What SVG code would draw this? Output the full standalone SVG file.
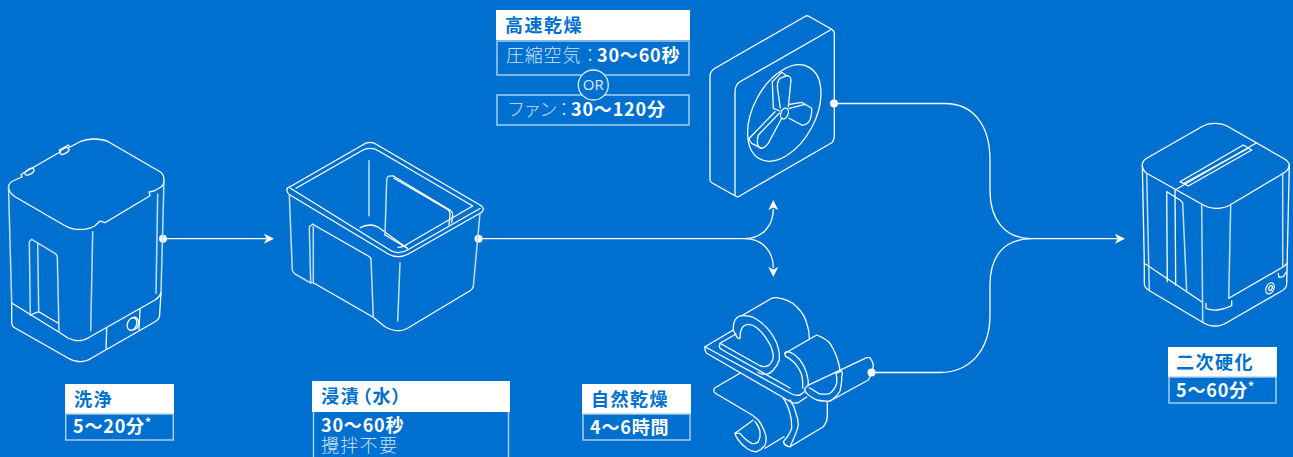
<svg xmlns="http://www.w3.org/2000/svg" width="1293" height="457" viewBox="0 0 1293 457">
<style>
.bg{fill:#0070d0}
.l{fill:none;stroke:#fff;stroke-width:1.3;stroke-linejoin:round;stroke-linecap:round}
.m{fill:none;stroke:#c4def4;stroke-width:1.5;stroke-linecap:round;stroke-linejoin:round}
.c{fill:none;stroke:#fff;stroke-width:1.3}
.d{fill:#fff}
.h{fill:#fff}
.b{fill:none;stroke:#b3d4f0;stroke-width:1.4}
text{font-family:"Noto Sans CJK JP","Noto Sans",sans-serif}
.t{font-size:18px;font-weight:700;fill:#0070d0;letter-spacing:1.5px}
.v{font-size:18px;font-weight:700;fill:#fff;letter-spacing:.8px}
.n{font-weight:300;fill:#cfe4f6}
.or{font-size:15px;font-weight:400;fill:#e2effa;font-family:"Open Sans","Noto Sans",sans-serif}
</style>
<rect class="bg" width="1293" height="457"/>
<defs>
<polygon id="ah" points="0,0 -10,-5 -7.5,0 -10,5" fill="#fff"/>
</defs>
<g id="connectors">
<path class="c" d="M163,238.7H266"/>
<use href="#ah" transform="translate(274,238.7)"/>
<path class="c" d="M479,238.7H745C762,238.7 773.3,226 773.3,209"/>
<use href="#ah" transform="translate(773.3,200) rotate(-90)"/>
<path class="c" d="M745,238.7C762,238.7 773.3,251 773.3,268"/>
<use href="#ah" transform="translate(773.3,277) rotate(90)"/>
<path class="c" d="M834,103.5H945C973,103.5 990,125 990,160V190C990,220 1005,238.7 1032,238.7H1117"/>
<path class="c" d="M871,372.5H940C970,372.5 990,350 990,315V285C990,255 1005,238.7 1032,238.7"/>
<use href="#ah" transform="translate(1125,238.7)"/>
<circle class="d" cx="163" cy="238.7" r="4"/>
<circle class="d" cx="478.5" cy="238.7" r="4"/>
<circle class="d" cx="834" cy="103.5" r="4"/>
<circle class="d" cx="871.5" cy="372.5" r="4"/>
</g>
<g id="washer">
<path class="l" d="M8.5,187C8.5,191 11,194 15,196.7L65,225.7C70,228.5 75,229.5 80,229.5C85,229.5 91,228 95,225.7L100,221L105,222.7L150,195.7L149,192L154,191L161,187C163,185.5 164,183 164,180C164,176 163,173.5 160,171.7L108.3,141.7C104,139.5 99,139 93,139C88,139 84,140 80,141.7L70,147L68.3,145L59.3,150L60,152L21,174.5L22,177L15,180C11,181.5 8.5,184 8.5,187Z"/>
<ellipse class="l" cx="29.5" cy="171.7" rx="5" ry="2.5" transform="rotate(-30 29.5 171.7)"/>
<ellipse class="l" cx="64.5" cy="151" rx="5" ry="2.5" transform="rotate(-30 64.5 151)"/>
<path class="m" d="M8.5,187L11.7,303"/>
<path class="l" d="M11.7,303V322C11.7,325 13,327 15,328L68,358C72,360.5 76,361.7 80,361.7C84,361.7 88,360.5 91.7,358L155,321.7C158,320 159.3,318 159.5,316L161,293"/>
<path class="m" d="M161,293L164,180"/>
<path class="l" d="M11.7,303L58.3,331.7L68,338C72,340 75,340.7 78,340.7C82,340.7 85,340 88,338L155,300C158,298 160,296 161,293"/>
<path class="m" d="M30.3,315L29.3,241.7L31.7,239.3L55,253.3C56.5,254.3 57.3,255.3 57.3,257L59,331.7"/>
<path class="m" d="M37.7,243.3L38.7,311.7"/>
<path class="l" d="M30.3,315L38.7,311.7L58.3,323.3"/>
<path class="m" d="M92.7,231.7L90.7,330.7"/>
<path class="m" d="M157.7,194L156,293.3"/>
<path class="l" d="M106.7,328.3L106,349M140,309L139,329.3"/>
<ellipse class="l" cx="132" cy="324" rx="4.5" ry="6.5" transform="rotate(22 132 324)"/>
<path class="l" d="M133,317.5C136,316.5 138.5,319 138.5,322.5C138.5,326 136.5,329 133.5,330"/>
</g>
<g id="tub">
<path class="l" d="M290,188L388.3,249C392,251.5 395,252.7 398.3,252.7C402,252.7 405,251.5 408.3,249.5L480,208.5"/>
<path class="l" d="M286.7,190C286.5,188.5 288,187.5 290,186.7L361.7,145.5C364.5,143.3 367,142.3 370,142.3C373,142.3 375.5,143.3 378.3,145.5L480,205C482.5,206.5 483.5,208 483.3,209.5C483.2,211 482,212.3 480,213.3L408.3,254C405,255.8 402,256.7 398.3,256.7C395,256.7 391.5,255.8 388.3,254L290,195C287.5,193.5 286.9,191.5 286.7,190Z"/>
<path class="l" d="M296,188.3L361.7,150.7C364.5,149 367,148.3 370,148.3C373,148.3 375.5,149 378.3,150.7L472.7,206L408.3,243.5C405,246 401,247.3 398,247.3"/>
<path class="m" d="M289.3,195L292.3,270C292.5,272 293.5,273 295,274L310,282.7"/>
<path class="l" d="M310,282.7H313.3L373.3,317.3L385,326.7C390,329.5 394,330.7 398.3,330.7C402.5,330.7 406,329.5 410,326.7L470,290.7C472,289.5 473,288 473.3,286.7"/>
<path class="m" d="M473.3,286.7L480,213.3"/>
<path class="m" d="M310.7,282.7L309.3,226.7L312.7,224.3M313.3,226.7V282.7"/>
<path class="l" d="M312.7,224.3L368.3,256C370,257 371,258 371,259.3"/>
<path class="m" d="M371,259.3L373.3,317.3"/>
<path class="m" d="M400,262.7L397.7,321"/>
<path class="m" d="M369,160.7V215.7"/>
<path class="l" d="M360,227.7C363,226 366,225 370,225C373.5,225 376,226 378.3,227.3L407.3,248.3"/>
<path class="m" d="M385,235L386.7,180C387,177.5 388.5,176 390,176H393.3"/>
<path class="l" d="M393.3,176L450,210C452,211.5 452.7,213 452.7,215L451.7,222.7M394,178.3L448.3,210C449.5,211 450,213 450,215L449,225M385,235L407.3,248.3"/>
</g>
<g id="fan">
<path class="l" d="M710,76.7C710,72.5 712,70 715,68.3L805,16.5C806,15.7 807.5,15.7 808.3,16L831.7,29.3C833.5,30.5 834.3,31.5 834.3,33.3V135C834.3,138.5 833.5,141 831.7,142.7L740,195.7C738.5,196.9 737,196.9 736,196.2L711.7,182.7C710.5,182 710,181 710,180Z"/>
<path class="l" d="M735,195V91.7C735,87 737,83.5 740,81.7L831.7,29.3"/>
<ellipse class="l" cx="784.3" cy="113" rx="31" ry="52" transform="rotate(28 784.3 113)"/>
<ellipse class="l" cx="784.5" cy="113.5" rx="3.6" ry="5.6" transform="rotate(22 784.5 113.5)"/>
<path class="l" d="M780.3,108L777.5,88.3C777,84 778,80.5 780,78.3L786.7,75.7C789,75.7 791,77.5 791,80L788.3,106.7"/>
<path class="l" d="M780,111L773.3,108.3L772.3,81.7L781.7,72.3L786.7,75.7"/>
<path class="l" d="M789,118.3L801.7,125C805,125.5 808,123.5 810,120C811.5,116 812,112 811.7,108.3L805,104.3L789.3,108.3"/>
<path class="l" d="M789.3,104.3L801.7,102.3L805,104.3"/>
<path class="l" d="M781.7,118.3L768.3,143.3C766,146 764,148 761.7,148.3C759.5,148 758,147 757.7,145C757,142 757.5,138 758.3,135L779.3,113.3"/>
<path class="l" d="M749.3,138.3L775,111.7M749.3,138.3C749,140 750,142 751.7,143.3L761.7,148.3"/>
</g>
<g id="clip">
<path class="l" d="M741.7,315.7L771.7,298.3C773,297.7 775,297.5 776.7,297.7C785,299 792,302 796.7,306.7C802,312 805.5,318 806.7,323.3C808.5,328 809.3,333 809.3,338.3"/>
<path class="l" d="M733.3,330C733,325 734,322 735,320C737,317 739,316 741.7,315.7C747,315.5 751,316 755,318.3C761,322 766,326 770,331.7C774,337 777,343 778.3,348.3C779.3,352 779.6,356 779.3,360C778,364 776,367.5 773.3,370C771,372.5 769,374 766.7,374.3C764,374.5 761,374 758,372.5"/>
<path class="l" d="M733.3,330L736.7,336.7C737.5,338.3 739.5,339 740,338.3C740,334 740.5,331 741.7,328.3C743.5,325.5 746,324.5 748.3,324.3C751,324.3 754,325.5 756.7,327.7C761,331 765,336 768.3,341.7C771,346 773,352 773.3,356.7C773,360 771,363.5 768.3,365.7C765.5,367 762.5,367 760,365.7L720,343.3L736,334"/>
<path class="l" d="M720,343.3L719.3,346.7C719.5,348 720.5,349 722,349.7L790,388"/>
<path class="l" d="M705,346.7L733.3,330M705,346.7C704.6,349.5 705,351.5 706.7,353.3L790,401.5C793,403.3 796,403.5 798,402.7L806.7,397"/>
<path class="l" d="M705,346.7L790,393C793.5,395.3 797,395.7 800,395L804,392"/>
<path class="l" d="M785,353.3L816.7,335C822,337 826.5,339.5 830,343.3C835,351 838.5,360 840,370"/>
<path class="l" d="M785,353.3C785,352.5 786.5,351.7 788,351.7C792,352.5 796,355.5 800,360C803,364 805.5,368.5 806.7,373.3C808,378 808.5,381 808.3,385"/>
<path class="l" d="M785,353.3C785,355 785.2,356 786,356.7C789,358 792,360.5 795,363.3C798,367 800.5,371 801.7,375C802.8,379 803,383 802.7,388"/>
<path class="l" d="M810,384.3L866.7,357.7H870C871.5,360 873,362 873.3,365C873.3,368 872.5,371 871.7,373.3L868.3,380L830,401C825,401.5 821,401 816.7,400C813,398 809,396 806.7,393.3C805,392 804.5,390 805,388.3C806,386.5 808,385 810,384.3Z"/>
<path class="l" d="M809.3,387.7L818.3,393.3C822,394.5 826,394.5 830,393.3C833,391 835.5,387.5 836.7,383.3C837,380 836.8,376.5 836,373.3L841.7,371C842.5,372.5 842.5,374.5 841.7,376.7C842,381.5 841,386.5 840,391C837.5,395.5 834,398.5 830,401"/>
<path class="l" d="M740,373.3L715,387.7C713.7,388.7 713.7,390.5 714,391.7C715,393.5 716.5,394.2 718.3,395L746.7,411.7C751,414 755,416.5 758.3,420C762,425 765,431 766,436.7C766.3,439.5 766,442.5 765,445C763,448 760,450.5 756.7,451.7C753,452 750,450.5 746.7,448.3C743.5,446 740.5,443 738.3,440C736.5,437.5 735.5,435.5 735,433.3L753.3,420"/>
<path class="l" d="M735,433.3L740,433.3C743,437 747,441 751.7,443.3C754,444 756.5,443.5 758.3,441.7C760,438.5 760.5,435 760,431.7C759.5,428 757.5,424.5 755,421.7"/>
<path class="l" d="M765,448.3L784,436.7"/>
<path class="l" d="M783.3,398.3C786,402 788.5,408 790,413.3C791.3,418 791.8,423 791.7,428.3C790,433 787,438 783.3,441.7C784,444 786,446 788.3,446.7L790,446.7L823.3,426.7C825.5,424 827,420.5 827.3,416.7V401.7"/>
<path class="l" d="M790,400C793,404 795,409 796,413.3C797.5,417 798.2,421 798.3,425C797.5,431 794,438 790,446.7"/>
</g>
<g id="dryer">
<path class="l" d="M1142.3,165C1142.3,162 1144,160 1146.7,158.3L1201.7,126.7C1206,124.3 1210,123.3 1215,123.3C1220,123.3 1224,124.3 1228.3,126.7L1283.3,158.3C1287,160.5 1289.3,162.5 1289.3,165C1289.3,168.5 1287,171 1283.3,173.3L1230,205C1226,207.3 1221,208.3 1216.7,208.3C1212,208.3 1207.5,207.3 1203.3,205L1146.7,173.3C1144,171.5 1142.3,169 1142.3,165Z"/>
<path class="l" d="M1142.3,165L1144.3,263.3V283.3C1144.3,286.5 1146,288.5 1148.3,290L1201.7,321.7C1206,324.5 1210.5,326 1215,326C1220,326 1224,324.5 1228.3,321.7L1283.3,290C1285.5,288.5 1286.7,286 1286.7,283.3L1289.3,165"/>
<path class="l" d="M1144.3,263.3L1201.7,301.7M1228.7,298.3L1283.3,266.7L1287.3,263.3"/>
<path class="m" d="M1146.7,173.3L1149.3,290M1201.7,205L1202.7,321.7M1230.7,205L1228.7,298.3M1282.7,173.3V266.7"/>
<path class="l" d="M1166.7,191.7L1167.3,281.7M1175,190L1175.7,285"/>
<path class="l" d="M1166.7,191.7L1180,200C1181.5,201 1182.7,202 1182.7,203.3"/>
<path class="m" d="M1182.7,203.3L1186.7,291.7"/>
<path class="l" d="M1175,190L1256.7,142.7"/>
<path class="l" d="M1180,181.7L1243.3,145L1251.7,150L1188.3,186Z"/>
<path class="l" d="M1184,183.3L1248.3,148.3"/>
<path class="l" d="M1206,303.3V308.3C1210,310 1213,310.3 1216.7,310C1222,309.7 1227,308 1231.7,305.7V301"/>
<ellipse class="l" cx="1270" cy="288.3" rx="3.8" ry="5.8" transform="rotate(25 1270 288.3)"/>
<ellipse class="l" cx="1270.5" cy="288" rx="1.6" ry="2.6" transform="rotate(25 1270.5 288)"/>
<path class="l" d="M1278.3,273.3L1279,277.3L1283.3,276.7L1286.7,271.7"/>
</g>
<g id="label-wash">
<rect class="h" x="65" y="384" width="109" height="30"/>
<rect class="b" x="65.7" y="414" width="107.6" height="26"/>
<text class="t" x="74" y="406">洗浄</text>
<text class="v" x="73" y="433">5〜20分<tspan font-size="12" dy="-6">*</tspan></text>
</g>
<g id="label-soak">
<rect class="h" x="312" y="381" width="198" height="31"/>
<path class="b" d="M313.5,412V457M508.5,412V457"/>
<text class="t" x="321" y="403">浸漬<tspan dx="2" style="font-feature-settings:'palt'">（水）</tspan></text>
<text class="v" x="321" y="432">30〜60秒</text>
<text class="v n" x="321" y="452" style="font-weight:300;letter-spacing:1.3px">攪拌不要</text>
</g>
<g id="label-fast">
<rect class="h" x="496" y="10" width="194" height="30"/>
<rect class="b" x="497" y="41" width="192" height="34"/>
<rect class="b" x="497" y="95" width="192" height="30"/>
<circle cx="593.3" cy="85" r="15" fill="#0070d0" stroke="#e2effa" stroke-width="1.3"/>
<text class="or" x="593.3" y="90.3" text-anchor="middle">OR</text>
<text class="t" x="505" y="32">高速乾燥</text>
<text class="v" y="62"><tspan class="n" x="506" style="font-weight:300">圧縮空気</tspan><tspan class="n" x="581" style="font-weight:300">：</tspan><tspan x="597">30〜60秒</tspan></text>
<text class="v" y="116"><tspan class="n" x="507" style="font-weight:300;letter-spacing:-1.7px">ファン</tspan><tspan class="n" x="555" style="font-weight:300">：</tspan><tspan x="571">30〜120分</tspan></text>
</g>
<g id="label-natural">
<rect class="h" x="582" y="384" width="109" height="30"/>
<rect class="b" x="583" y="414" width="107" height="26"/>
<text class="t" x="591" y="406">自然乾燥</text>
<text class="v" x="590" y="434">4〜6時間</text>
</g>
<g id="label-cure">
<rect class="h" x="1168" y="347" width="109" height="30"/>
<rect class="b" x="1169" y="377" width="107" height="26"/>
<text class="t" x="1176" y="369">二次硬化</text>
<text class="v" x="1176" y="397">5〜60分<tspan font-size="12" dy="-6">*</tspan></text>
</g>
</svg>
